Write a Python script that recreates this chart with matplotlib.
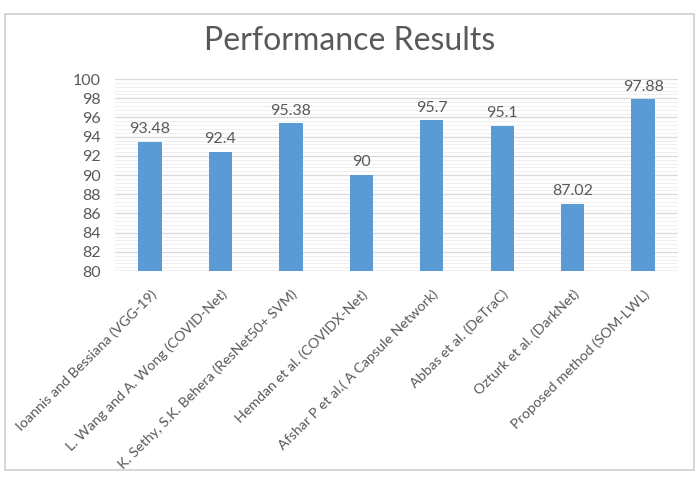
import matplotlib
matplotlib.use('Agg')
import matplotlib.pyplot as plt
from matplotlib.patches import Rectangle
from matplotlib.ticker import MultipleLocator

methods = ['Ioannis and Bessiana (VGG-19)', 'L. Wang and A. Wong (COVID-Net)',
           'K. Sethy, S.K. Behera (ResNet50+ SVM)', 'Hemdan et al. (COVIDX-Net)',
           'Afshar P et al.( A Capsule Network)', 'Abbas et al. (DeTraC)',
           'Ozturk et al. (DarkNet)', 'Proposed method (SOM-LWL)']
scores = [93.48, 92.4, 95.38, 90, 95.7, 95.1, 87.02, 97.88]
labels = ['93.48', '92.4', '95.38', '90', '95.7', '95.1', '87.02', '97.88']

plt.rcParams['font.family'] = ['Lato', 'DejaVu Sans']
txt = '#595959'

fig = plt.figure(figsize=(7, 4.79), dpi=100)
fig.add_artist(Rectangle((0.007, 0.018), 0.985, 0.952, transform=fig.transFigure,
                         fill=False, edgecolor='#d0d0d0', linewidth=1.2))
ax = fig.add_axes([0.164, 0.434, 0.805, 0.401])

x = range(len(methods))
bars = ax.bar(x, [s - 80 for s in scores], bottom=80, width=0.33, color='#5B9BD5', zorder=3)
for xi, s, lab in zip(x, scores, labels):
    ax.text(xi, s + 0.6, lab, ha='center', va='bottom', fontsize=11.5, color=txt)

ax.set_ylim(80, 100)
ax.set_xlim(-0.5, len(methods) - 0.5)
ax.yaxis.set_major_locator(MultipleLocator(2))
ax.yaxis.set_minor_locator(MultipleLocator(0.4))
ax.grid(axis='y', which='major', color='#d9d9d9', linewidth=0.9, zorder=0)
ax.grid(axis='y', which='minor', color='#efefef', linewidth=0.7, zorder=0)
for sp in ax.spines.values():
    sp.set_visible(False)
ax.axhline(80, color='#d9d9d9', linewidth=1, zorder=2)
ax.tick_params(axis='both', which='both', length=0, colors=txt, labelsize=11.5)
ax.set_xticks(list(x))
ax.set_xticklabels(methods, rotation=45, ha='right', rotation_mode='anchor', fontsize=10.3)
ax.tick_params(axis='x', pad=12)
ax.tick_params(axis='y', pad=10)

fig.text(0.5, 0.915, 'Performance Results', ha='center', va='center', fontsize=23, color=txt)

fig.savefig('out.png', dpi=100)
